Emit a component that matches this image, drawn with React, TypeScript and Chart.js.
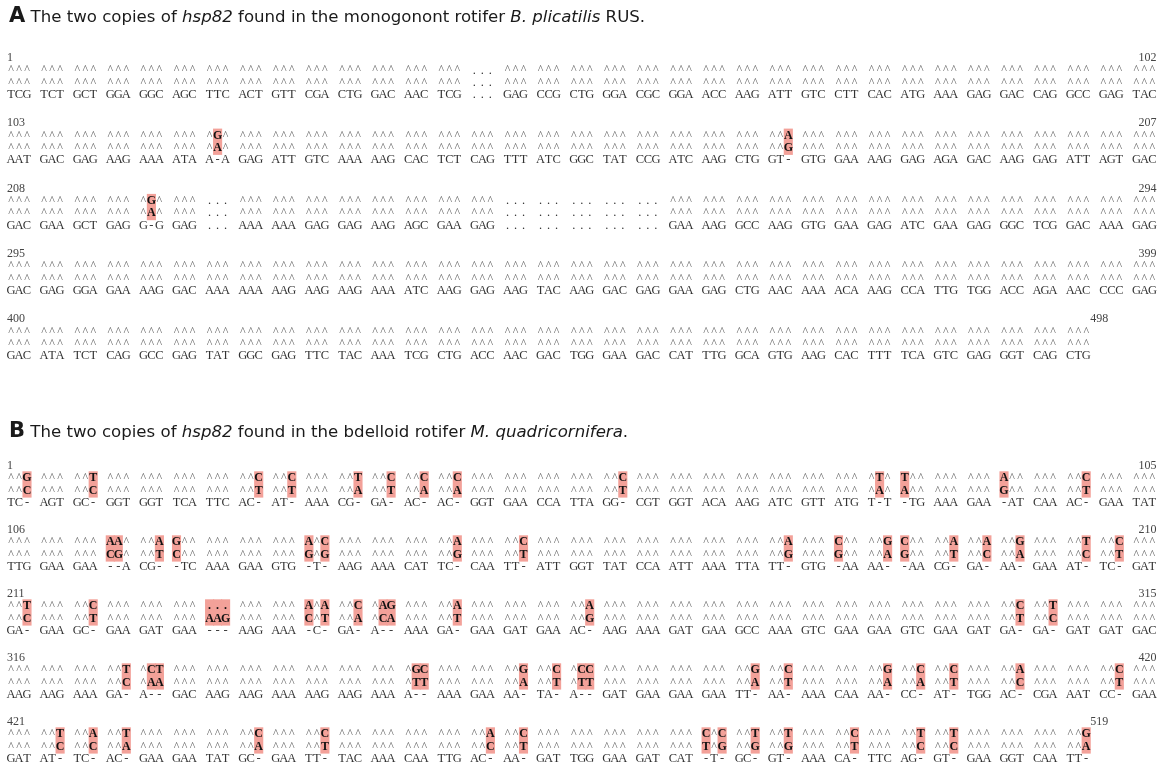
import React, { useEffect, useRef } from "react";
import { Chart, registerables } from "chart.js";
Chart.register(...registerables);

// ---------- Panel A : B. plicatilis RUS ----------
const aStart = [1, 103, 208, 295, 400];
const aEnd = [102, 207, 294, 399, 498];
const aCopy1 = [
  "^^^ ^^^ ^^^ ^^^ ^^^  ^^^ ^^^ ^^^ ^^^ ^^^  ^^^ ^^^ ^^^ ^^^ ...  ^^^ ^^^ ^^^ ^^^ ^^^  ^^^ ^^^ ^^^ ^^^ ^^^  ^^^ ^^^ ^^^ ^^^ ^^^  ^^^ ^^^ ^^^ ^^^ ^^^",
  "^^^ ^^^ ^^^ ^^^ ^^^  ^^^ ^G^ ^^^ ^^^ ^^^  ^^^ ^^^ ^^^ ^^^ ^^^  ^^^ ^^^ ^^^ ^^^ ^^^  ^^^ ^^^ ^^^ ^^A ^^^  ^^^ ^^^ ^^^ ^^^ ^^^  ^^^ ^^^ ^^^ ^^^ ^^^",
  "^^^ ^^^ ^^^ ^^^ ^G^  ^^^ ... ^^^ ^^^ ^^^  ^^^ ^^^ ^^^ ^^^ ^^^  ... ... ... ... ...  ^^^ ^^^ ^^^ ^^^ ^^^  ^^^ ^^^ ^^^ ^^^ ^^^  ^^^ ^^^ ^^^ ^^^ ^^^",
  "^^^ ^^^ ^^^ ^^^ ^^^  ^^^ ^^^ ^^^ ^^^ ^^^  ^^^ ^^^ ^^^ ^^^ ^^^  ^^^ ^^^ ^^^ ^^^ ^^^  ^^^ ^^^ ^^^ ^^^ ^^^  ^^^ ^^^ ^^^ ^^^ ^^^  ^^^ ^^^ ^^^ ^^^ ^^^",
  "^^^ ^^^ ^^^ ^^^ ^^^  ^^^ ^^^ ^^^ ^^^ ^^^  ^^^ ^^^ ^^^ ^^^ ^^^  ^^^ ^^^ ^^^ ^^^ ^^^  ^^^ ^^^ ^^^ ^^^ ^^^  ^^^ ^^^ ^^^ ^^^ ^^^  ^^^ ^^^ ^^^",
];
const aCopy2 = [
  "^^^ ^^^ ^^^ ^^^ ^^^  ^^^ ^^^ ^^^ ^^^ ^^^  ^^^ ^^^ ^^^ ^^^ ...  ^^^ ^^^ ^^^ ^^^ ^^^  ^^^ ^^^ ^^^ ^^^ ^^^  ^^^ ^^^ ^^^ ^^^ ^^^  ^^^ ^^^ ^^^ ^^^ ^^^",
  "^^^ ^^^ ^^^ ^^^ ^^^  ^^^ ^A^ ^^^ ^^^ ^^^  ^^^ ^^^ ^^^ ^^^ ^^^  ^^^ ^^^ ^^^ ^^^ ^^^  ^^^ ^^^ ^^^ ^^G ^^^  ^^^ ^^^ ^^^ ^^^ ^^^  ^^^ ^^^ ^^^ ^^^ ^^^",
  "^^^ ^^^ ^^^ ^^^ ^A^  ^^^ ... ^^^ ^^^ ^^^  ^^^ ^^^ ^^^ ^^^ ^^^  ... ... ... ... ...  ^^^ ^^^ ^^^ ^^^ ^^^  ^^^ ^^^ ^^^ ^^^ ^^^  ^^^ ^^^ ^^^ ^^^ ^^^",
  "^^^ ^^^ ^^^ ^^^ ^^^  ^^^ ^^^ ^^^ ^^^ ^^^  ^^^ ^^^ ^^^ ^^^ ^^^  ^^^ ^^^ ^^^ ^^^ ^^^  ^^^ ^^^ ^^^ ^^^ ^^^  ^^^ ^^^ ^^^ ^^^ ^^^  ^^^ ^^^ ^^^ ^^^ ^^^",
  "^^^ ^^^ ^^^ ^^^ ^^^  ^^^ ^^^ ^^^ ^^^ ^^^  ^^^ ^^^ ^^^ ^^^ ^^^  ^^^ ^^^ ^^^ ^^^ ^^^  ^^^ ^^^ ^^^ ^^^ ^^^  ^^^ ^^^ ^^^ ^^^ ^^^  ^^^ ^^^ ^^^",
];
const aCons = [
  "TCG TCT GCT GGA GGC  AGC TTC ACT GTT CGA  CTG GAC AAC TCG ...  GAG CCG CTG GGA CGC  GGA ACC AAG ATT GTC  CTT CAC ATG AAA GAG  GAC CAG GCC GAG TAC",
  "AAT GAC GAG AAG AAA  ATA A-A GAG ATT GTC  AAA AAG CAC TCT CAG  TTT ATC GGC TAT CCG  ATC AAG CTG GT- GTG  GAA AAG GAG AGA GAC  AAG GAG ATT AGT GAC",
  "GAC GAA GCT GAG G-G  GAG ... AAA AAA GAG  GAG AAG AGC GAA GAG  ... ... ... ... ...  GAA AAG GCC AAG GTG  GAA GAG ATC GAA GAG  GGC TCG GAC AAA GAG",
  "GAC GAG GGA GAA AAG  GAC AAA AAA AAG AAG  AAG AAA ATC AAG GAG  AAG TAC AAG GAC GAG  GAA GAG CTG AAC AAA  ACA AAG CCA TTG TGG  ACC AGA AAC CCC GAG",
  "GAC ATA TCT CAG GCC  GAG TAT GGC GAG TTC  TAC AAA TCG CTG ACC  AAC GAC TGG GAA GAC  CAT TTG GCA GTG AAG  CAC TTT TCA GTC GAG  GGT CAG CTG",
];

// ---------- Panel B : M. quadricornifera ----------
const bStart = [1, 106, 211, 316, 421];
const bEnd = [105, 210, 315, 420, 519];
const bCopy1 = [
  "^^G ^^^ ^^T ^^^ ^^^  ^^^ ^^^ ^^C ^^C ^^^  ^^T ^^C ^^C ^^C ^^^  ^^^ ^^^ ^^^ ^^C ^^^  ^^^ ^^^ ^^^ ^^^ ^^^  ^^^ ^T^ T^^ ^^^ ^^^  A^^ ^^^ ^^C ^^^ ^^^",
  "^^^ ^^^ ^^^ AA^ ^^A  G^^ ^^^ ^^^ ^^^ A^C  ^^^ ^^^ ^^^ ^^A ^^^  ^^C ^^^ ^^^ ^^^ ^^^  ^^^ ^^^ ^^^ ^^A ^^^  C^^ ^^G C^^ ^^A ^^A  ^^G ^^^ ^^T ^^C ^^^",
  "^^T ^^^ ^^C ^^^ ^^^  ^^^ ... ^^^ ^^^ A^A  ^^C ^AG ^^^ ^^A ^^^  ^^^ ^^^ ^^A ^^^ ^^^  ^^^ ^^^ ^^^ ^^^ ^^^  ^^^ ^^^ ^^^ ^^^ ^^^  ^^C ^^T ^^^ ^^^ ^^^",
  "^^^ ^^^ ^^^ ^^T ^CT  ^^^ ^^^ ^^^ ^^^ ^^^  ^^^ ^^^ ^GC ^^^ ^^^  ^^G ^^C ^CC ^^^ ^^^  ^^^ ^^^ ^^G ^^C ^^^  ^^^ ^^G ^^C ^^C ^^^  ^^A ^^^ ^^^ ^^C ^^^",
  "^^^ ^^T ^^A ^^T ^^^  ^^^ ^^^ ^^C ^^^ ^^C  ^^^ ^^^ ^^^ ^^^ ^^A  ^^C ^^^ ^^^ ^^^ ^^^  ^^^ C^C ^^T ^^T ^^^  ^^C ^^^ ^^T ^^T ^^^  ^^^ ^^^ ^^G",
];
const bCopy2 = [
  "^^C ^^^ ^^C ^^^ ^^^  ^^^ ^^^ ^^T ^^T ^^^  ^^A ^^T ^^A ^^A ^^^  ^^^ ^^^ ^^^ ^^T ^^^  ^^^ ^^^ ^^^ ^^^ ^^^  ^^^ ^A^ A^^ ^^^ ^^^  G^^ ^^^ ^^T ^^^ ^^^",
  "^^^ ^^^ ^^^ CG^ ^^T  C^^ ^^^ ^^^ ^^^ G^G  ^^^ ^^^ ^^^ ^^G ^^^  ^^T ^^^ ^^^ ^^^ ^^^  ^^^ ^^^ ^^^ ^^G ^^^  G^^ ^^A G^^ ^^T ^^C  ^^A ^^^ ^^C ^^T ^^^",
  "^^C ^^^ ^^T ^^^ ^^^  ^^^ AAG ^^^ ^^^ C^T  ^^A ^CA ^^^ ^^T ^^^  ^^^ ^^^ ^^G ^^^ ^^^  ^^^ ^^^ ^^^ ^^^ ^^^  ^^^ ^^^ ^^^ ^^^ ^^^  ^^T ^^C ^^^ ^^^ ^^^",
  "^^^ ^^^ ^^^ ^^C ^AA  ^^^ ^^^ ^^^ ^^^ ^^^  ^^^ ^^^ ^TT ^^^ ^^^  ^^A ^^T ^TT ^^^ ^^^  ^^^ ^^^ ^^A ^^T ^^^  ^^^ ^^A ^^A ^^T ^^^  ^^C ^^^ ^^^ ^^T ^^^",
  "^^^ ^^C ^^C ^^A ^^^  ^^^ ^^^ ^^A ^^^ ^^T  ^^^ ^^^ ^^^ ^^^ ^^C  ^^T ^^^ ^^^ ^^^ ^^^  ^^^ T^G ^^G ^^G ^^^  ^^T ^^^ ^^C ^^C ^^^  ^^^ ^^^ ^^A",
];
const bCons = [
  "TC- AGT GC- GGT GGT  TCA TTC AC- AT- AAA  CG- GA- AC- AC- GGT  GAA CCA TTA GG- CGT  GGT ACA AAG ATC GTT  ATG T-T -TG AAA GAA  -AT CAA AC- GAA TAT",
  "TTG GAA GAA --A CG-  -TC AAA GAA GTG -T-  AAG AAA CAT TC- CAA  TT- ATT GGT TAT CCA  ATT AAA TTA TT- GTG  -AA AA- -AA CG- GA-  AA- GAA AT- TC- GAT",
  "GA- GAA GC- GAA GAT  GAA --- AAG AAA -C-  GA- A-- AAA GA- GAA  GAT GAA AC- AAG AAA  GAT GAA GCC AAA GTC  GAA GAA GTC GAA GAT  GA- GA- GAT GAT GAC",
  "AAG AAG AAA GA- A--  GAC AAG AAG AAA AAG  AAG AAA A-- AAA GAA  AA- TA- A-- GAT GAA  GAA GAA TT- AA- AAA  CAA AA- CC- AT- TGG  AC- CGA AAT CC- GAA",
  "GAT AT- TC- AC- GAA  GAA TAT GC- GAA TT-  TAC AAA CAA TTG AC-  AA- GAT TGG GAA GAT  CAT -T- GC- GT- AAA  CA- TTC AG- GT- GAA  GGT CAA TT-",
];

// ---------- layout (scale units) ----------
const W = 1167;
const H = 782;
const PITCH = 33.1; // px per codon column
const X_MIN = 1 - 19 / PITCH;
const X_MAX = X_MIN + W / PITCH;
const FULL_COLS = 35;
const LINE = 12.3; // px per y unit
const Y_MAX = H / LINE;
const A_TOP = 58 / LINE;
const A_STEP = 65.3 / LINE;
const B_TOP = 466 / LINE;
const B_STEP = 64 / LINE;
const ROWS = [0, 1, 2, 3];
const CHAR_FRAC = 8 / PITCH;

const HL = "#f3a199";
const SEQ_FONT = '"Liberation Serif", "DejaVu Serif", serif';

function split(s: string) {
  return s.trim().split(/\s+/);
}

function buildPanel(
  starts: number[], ends: number[], c1: string[], c2: string[], cons: string[],
  top: number, step: number
) {
  const ds: any[] = [];
  starts.forEach((st, b) => {
    const v0 = top + b * step;
    const r1 = split(c1[b]);
    const r2 = split(c2[b]);
    const rc = split(cons[b]);
    const n = rc.length;
    ds.push({
      role: "num",
      data: [
        { x: 1, y: v0 + ROWS[0], t: String(st), side: "left" },
        { x: n, y: v0 + ROWS[0], t: String(ends[b]), side: n >= FULL_COLS ? "right" : "after" },
      ],
    });
    ds.push({
      role: "copy1",
      data: r1.map((t, k) => ({ x: k + 1, y: v0 + ROWS[1], y2: v0 + ROWS[2], t, o: r2[k] })),
    });
    ds.push({ role: "copy2", data: r2.map((t, k) => ({ x: k + 1, y: v0 + ROWS[2], t, o: r1[k] })) });
    ds.push({ role: "cons", data: rc.map((t, k) => ({ x: k + 1, y: v0 + ROWS[3], t })) });
  });
  return ds.map((d) => ({ ...d, pointRadius: 0, showLine: false }));
}

const seqPlugin = {
  id: "seqText",
  beforeDatasetsDraw(chart: any) {
    const ctx = chart.ctx;
    const xs = chart.scales.x;
    const ys = chart.scales.y;
    const cp = (xs.getPixelForValue(1) - xs.getPixelForValue(0)) * CHAR_FRAC;
    ctx.save();
    ctx.fillStyle = HL;
    chart.data.datasets.forEach((ds: any, i: number) => {
      if (ds.role !== "copy1") return;
      const meta = chart.getDatasetMeta(i);
      meta.data.forEach((el: any, j: number) => {
        const raw = ds.data[j];
        const y2 = ys.getPixelForValue(raw.y2);
        for (let k = 0; k < 3; k++) {
          const a = raw.t[k];
          const b = raw.o[k];
          if ((a === "^" && b === "^") || (a === "." && b === ".")) continue;
          ctx.fillRect(el.x + (k - 1) * cp - cp * 0.57, el.y - 7, cp * 1.14, y2 - el.y + 14);
        }
      });
    });
    ctx.restore();
  },
  afterDatasetsDraw(chart: any) {
    const ctx = chart.ctx;
    const xs = chart.scales.x;
    const cp = (xs.getPixelForValue(1) - xs.getPixelForValue(0)) * CHAR_FRAC;
    const fullRight = xs.getPixelForValue(FULL_COLS) + cp * 1.5;
    ctx.save();
    ctx.textBaseline = "middle";
    chart.data.datasets.forEach((ds: any, i: number) => {
      const meta = chart.getDatasetMeta(i);
      meta.data.forEach((el: any, j: number) => {
        const raw = ds.data[j];
        if (ds.role === "num") {
          ctx.font = `12px ${SEQ_FONT}`;
          ctx.fillStyle = "#444";
          if (raw.side === "left") {
            ctx.textAlign = "left";
            ctx.fillText(raw.t, el.x - cp * 1.5, el.y);
          } else if (raw.side === "right") {
            ctx.textAlign = "right";
            ctx.fillText(raw.t, fullRight, el.y);
          } else {
            const w = ctx.measureText(raw.t).width;
            const left = Math.min(el.x + cp * 1.5, fullRight - w);
            ctx.textAlign = "left";
            ctx.fillText(raw.t, left, el.y);
          }
          return;
        }
        ctx.textAlign = "center";
        for (let k = 0; k < 3; k++) {
          const ch = raw.t[k];
          const x = el.x + (k - 1) * cp;
          if (ds.role === "cons") {
            ctx.font = `12.5px ${SEQ_FONT}`;
            ctx.fillStyle = "#333";
          } else if (ch === "^") {
            ctx.font = `12px ${SEQ_FONT}`;
            ctx.fillStyle = "#666";
          } else if (ch === "." && raw.o[k] === ".") {
            ctx.font = `12.5px ${SEQ_FONT}`;
            ctx.fillStyle = "#333";
          } else {
            ctx.font = `bold 12px ${SEQ_FONT}`;
            ctx.fillStyle = "#111";
          }
          ctx.fillText(ch, x, el.y);
        }
      });
    });
    ctx.restore();
  },
};

export default function App() {
  const ref = useRef<HTMLCanvasElement>(null);
  useEffect(() => {
    document.body.style.margin = "0";
    const canvas = ref.current;
    if (!canvas) return;
    const datasets = [
      ...buildPanel(aStart, aEnd, aCopy1, aCopy2, aCons, A_TOP, A_STEP),
      ...buildPanel(bStart, bEnd, bCopy1, bCopy2, bCons, B_TOP, B_STEP),
    ];
    const chart = new Chart(canvas, {
      type: "scatter",
      data: { datasets },
      options: {
        animation: false,
        responsive: false,
        devicePixelRatio: 1,
        events: [],
        layout: { padding: 0 },
        scales: {
          x: { type: "linear", display: false, min: X_MIN, max: X_MAX },
          y: { type: "linear", display: false, reverse: true, min: 0, max: Y_MAX },
        },
        plugins: { legend: { display: false }, tooltip: { enabled: false }, title: { display: false } },
      },
      plugins: [seqPlugin],
    } as any);
    return () => chart.destroy();
  }, []);

  const titleStyle: React.CSSProperties = {
    position: "absolute",
    left: 9,
    fontFamily: '"DejaVu Sans", Verdana, sans-serif',
    fontSize: 16.6,
    lineHeight: "22px",
    color: "#1a1a1a",
    whiteSpace: "nowrap",
  };
  const letterStyle: React.CSSProperties = { fontWeight: 900, fontSize: 21 };

  return (
    <div style={{ position: "relative", width: W, height: H, background: "#fff", overflow: "hidden" }}>
      <canvas ref={ref} width={W} height={H} style={{ position: "absolute", left: 0, top: 0 }} />
      <div style={{ ...titleStyle, top: 4 }}>
        <span style={letterStyle}>A</span> The two copies of <i>hsp82</i> found in the monogonont rotifer{" "}
        <i>B. plicatilis</i> RUS.
      </div>
      <div style={{ ...titleStyle, top: 419 }}>
        <span style={letterStyle}>B</span> The two copies of <i>hsp82</i> found in the bdelloid rotifer{" "}
        <i>M. quadricornifera</i>.
      </div>
    </div>
  );
}
